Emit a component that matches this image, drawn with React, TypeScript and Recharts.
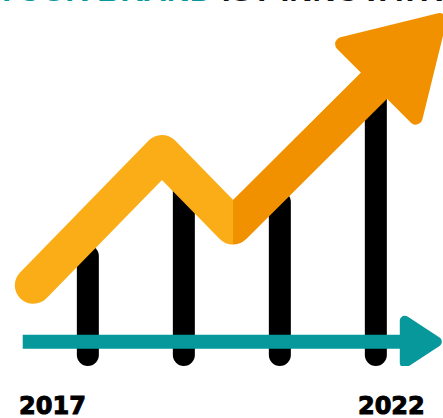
import React from "react";
import { ComposedChart, Bar, Line, XAxis, YAxis } from "recharts";

// Bars (position index, height)
const barPositions = [1, 2, 3, 4];
const barValues = [45, 71, 65, 103];

// Orange growth arrow path
const growthX = [0.43, 1.77, 2.51, 4.03];
const growthY = [30, 79, 52, 106];

// Teal timeline arrow
const timelineX = [0.32, 4.3];
const timelineY = [9, 9];

// Year labels and where they sit along the timeline
const yearLabels = ["2017", "2022"];
const yearLabelPos = [0.63, 4.16];

const barData = barPositions.map((x, i) => ({ x, v: barValues[i] }));
const growthData = growthX.map((x, i) => ({ x, y: growthY[i] }));
const timelineData = timelineX.map((x, i) => ({ x, y: timelineY[i] }));

const valleyFrac =
  (growthX[2] - growthX[0]) / (growthX[growthX.length - 1] - growthX[0]);

const LIGHT_ORANGE = "#FBAD18";
const DARK_ORANGE = "#F29100";
const TEAL = "#06989B";
const BAR_W = 22;

const RoundBar = (props: any) => {
  const { x, y, width, height } = props;
  const cx = x + width / 2;
  return (
    <rect
      x={cx - BAR_W / 2}
      y={y}
      width={BAR_W}
      height={height}
      rx={BAR_W / 2}
      ry={BAR_W / 2}
      fill="#000"
    />
  );
};

const OrangeHead = (props: any) => {
  const { cx, cy, index } = props;
  if (index !== growthData.length - 1) return <g key={`o${index}`} />;
  return (
    <polygon
      key={`o${index}`}
      points="0,-52 86,0 0,52"
      fill={DARK_ORANGE}
      stroke={DARK_ORANGE}
      strokeWidth={14}
      strokeLinejoin="round"
      transform={`translate(${cx},${cy}) rotate(-45)`}
    />
  );
};

const TealHead = (props: any) => {
  const { cx, cy, index } = props;
  if (index !== timelineData.length - 1) return <g key={`t${index}`} />;
  return (
    <polygon
      key={`t${index}`}
      points="0,-21 32,0 0,21"
      fill={TEAL}
      stroke={TEAL}
      strokeWidth={10}
      strokeLinejoin="round"
      transform={`translate(${cx},${cy})`}
    />
  );
};

const YearTick = (props: any) => {
  const { x, y, payload } = props;
  const i = yearLabelPos.indexOf(payload.value);
  return (
    <text
      x={x}
      y={y + 48}
      textAnchor="middle"
      fill="#000"
      stroke="#000"
      strokeWidth={1}
      fontSize={24}
      fontWeight={700}
      fontFamily="DejaVu Sans"
    >
      {i >= 0 ? yearLabels[i] : ""}
    </text>
  );
};

export default function App() {
  return (
    <div
      style={{
        position: "absolute",
        left: 0,
        top: 0,
        width: 443,
        height: 418,
        background: "#fff",
        overflow: "hidden",
      }}
    >
      <div
        style={{
          position: "absolute",
          left: -4,
          top: -26,
          whiteSpace: "nowrap",
          fontFamily: "Liberation Sans",
          fontWeight: 700,
          fontSize: 32,
          lineHeight: "32px",
        }}
      >
        <span style={{ color: TEAL }}>YOUR BRAND</span>{" "}
        <span style={{ color: "#111" }}>IST INNOVATIV</span>
      </div>
      <ComposedChart
        width={443}
        height={418}
        data={barData}
        margin={{ top: 0, right: 0, bottom: 0, left: 0 }}
      >
        <defs>
          <linearGradient id="orangeGrad" x1="0" y1="0" x2="1" y2="0">
            <stop offset={0} stopColor={LIGHT_ORANGE} />
            <stop offset={valleyFrac} stopColor={LIGHT_ORANGE} />
            <stop offset={valleyFrac} stopColor={DARK_ORANGE} />
            <stop offset={1} stopColor={DARK_ORANGE} />
          </linearGradient>
        </defs>
        <XAxis
          dataKey="x"
          type="number"
          domain={[0.0833, 4.698]}
          allowDataOverflow
          ticks={yearLabelPos}
          height={52}
          axisLine={false}
          tickLine={false}
          tickSize={0}
          tickMargin={0}
          interval={0}
          tick={<YearTick />}
        />
        <YAxis type="number" domain={[0, 136.06]} allowDataOverflow hide />
        <Bar
          dataKey="v"
          fill="#000"
          shape={RoundBar}
          isAnimationActive={false}
        />
        <Line
          data={timelineData}
          dataKey="y"
          type="linear"
          stroke={TEAL}
          strokeWidth={14}
          strokeLinecap="butt"
          dot={TealHead}
          activeDot={false}
          isAnimationActive={false}
        />
        <Line
          data={growthData}
          dataKey="y"
          type="linear"
          stroke="url(#orangeGrad)"
          strokeWidth={37}
          strokeLinecap="round"
          strokeLinejoin="round"
          dot={OrangeHead}
          activeDot={false}
          isAnimationActive={false}
        />
      </ComposedChart>
    </div>
  );
}
